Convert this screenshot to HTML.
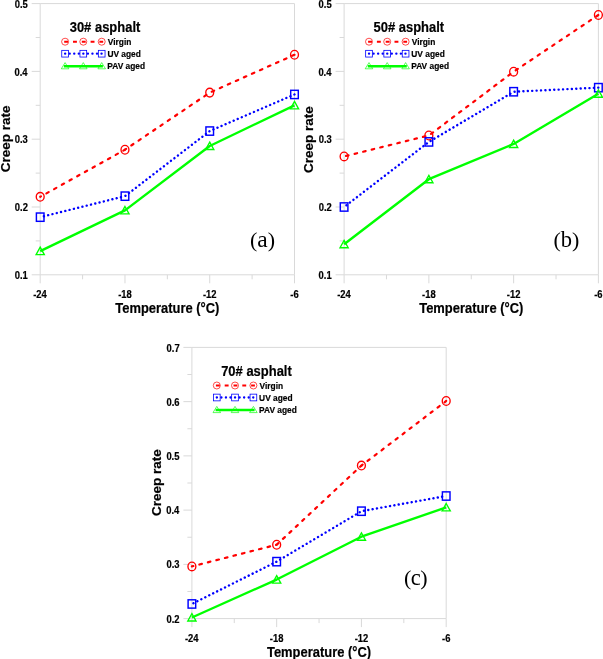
<!DOCTYPE html><html><head><meta charset="utf-8"><style>html,body{margin:0;padding:0;background:#fff;}svg{display:block;will-change:transform;}text{font-family:"Liberation Sans",sans-serif;font-weight:bold;fill:#000;stroke:#000;stroke-width:0.2px;}</style></head><body>
<svg width="603" height="659" viewBox="0 0 603 659">
<g stroke="#d9d9d9" stroke-width="1" fill="none">
<path d="M40.2,3.6H294.50V274.80H40.2Z"/>
<path d="M31.70,3.60H40.2"/>
<path d="M35.70,37.50H40.2"/>
<path d="M31.70,71.40H40.2"/>
<path d="M35.70,105.30H40.2"/>
<path d="M31.70,139.20H40.2"/>
<path d="M35.70,173.10H40.2"/>
<path d="M31.70,207.00H40.2"/>
<path d="M35.70,240.90H40.2"/>
<path d="M31.70,274.80H40.2"/>
<path d="M40.20,274.80V283.30"/>
<path d="M82.58,274.80V279.30"/>
<path d="M124.97,274.80V283.30"/>
<path d="M167.35,274.80V279.30"/>
<path d="M209.73,274.80V283.30"/>
<path d="M252.12,274.80V279.30"/>
<path d="M294.50,274.80V283.30"/>
</g>
<text transform="translate(14.70,7.73) scale(0.94,1)" font-size="10.0">0.5</text>
<text transform="translate(14.48,75.53) scale(0.94,1)" font-size="10.0">0.4</text>
<text transform="translate(14.77,143.33) scale(0.94,1)" font-size="10.0">0.3</text>
<text transform="translate(14.81,211.13) scale(0.94,1)" font-size="10.0">0.2</text>
<text transform="translate(14.70,278.93) scale(0.94,1)" font-size="10.0">0.1</text>
<text transform="translate(33.25,297.70) scale(0.94,1)" font-size="10.0">-24</text>
<text transform="translate(118.14,297.70) scale(0.94,1)" font-size="10.0">-18</text>
<text transform="translate(202.95,297.70) scale(0.94,1)" font-size="10.0">-12</text>
<text transform="translate(290.31,297.70) scale(0.94,1)" font-size="10.0">-6</text>
<text transform="translate(115.29,312.90) scale(0.925,1)" font-size="14.0">Temperature (°C)</text>
<text transform="translate(9.50,138.80) rotate(-90) scale(1.015,1)" font-size="13.3" text-anchor="middle">Creep rate</text>
<g fill="none" stroke="#ff0000" stroke-width="2.2" stroke-dasharray="2.6 6.2" stroke-linecap="round">
<line x1="40.20" y1="196.83" x2="124.97" y2="149.71" stroke-dashoffset="1.70"/>
<line x1="124.97" y1="149.71" x2="209.73" y2="92.62" stroke-dashoffset="1.20"/>
<line x1="209.73" y1="92.62" x2="294.50" y2="54.79" stroke-dashoffset="6.60"/>
</g>
<g fill="none" stroke="#0000ff" stroke-width="2.4" stroke-dasharray="0.1 4.31" stroke-linecap="round">
<line x1="40.20" y1="217.17" x2="124.97" y2="196.15" stroke-dashoffset="0.64"/>
<line x1="124.97" y1="196.15" x2="209.73" y2="131.06" stroke-dashoffset="3.84"/>
<line x1="209.73" y1="131.06" x2="294.50" y2="94.45" stroke-dashoffset="0.39"/>
</g>
<polyline points="40.20,251.07 124.97,210.39 209.73,145.98 294.50,105.30" fill="none" stroke="#00ff00" stroke-width="2.4" stroke-linejoin="round"/>
<ellipse cx="40.20" cy="196.83" rx="3.95" ry="4.35" fill="none" stroke="#ff0000" stroke-width="1.35"/>
<ellipse cx="124.97" cy="149.71" rx="3.95" ry="4.35" fill="none" stroke="#ff0000" stroke-width="1.35"/>
<ellipse cx="209.73" cy="92.62" rx="3.95" ry="4.35" fill="none" stroke="#ff0000" stroke-width="1.35"/>
<ellipse cx="294.50" cy="54.79" rx="3.95" ry="4.35" fill="none" stroke="#ff0000" stroke-width="1.35"/>
<rect x="36.40" y="213.02" width="7.6" height="8.3" fill="none" stroke="#0000ff" stroke-width="1.45"/>
<rect x="121.17" y="192.00" width="7.6" height="8.3" fill="none" stroke="#0000ff" stroke-width="1.45"/>
<rect x="205.93" y="126.91" width="7.6" height="8.3" fill="none" stroke="#0000ff" stroke-width="1.45"/>
<rect x="290.70" y="90.30" width="7.6" height="8.3" fill="none" stroke="#0000ff" stroke-width="1.45"/>
<path d="M40.20,247.17L44.30,254.57L36.10,254.57Z" fill="none" stroke="#00ff00" stroke-width="1.35" stroke-linejoin="miter"/>
<path d="M124.97,206.49L129.07,213.89L120.87,213.89Z" fill="none" stroke="#00ff00" stroke-width="1.35" stroke-linejoin="miter"/>
<path d="M209.73,142.08L213.83,149.48L205.63,149.48Z" fill="none" stroke="#00ff00" stroke-width="1.35" stroke-linejoin="miter"/>
<path d="M294.50,101.40L298.60,108.80L290.40,108.80Z" fill="none" stroke="#00ff00" stroke-width="1.35" stroke-linejoin="miter"/>
<text transform="translate(69.70,31.70) scale(0.908,1)" font-size="14.3">30# asphalt</text>
<path d="M64.20,41.70H103.20" stroke="#ff0000" stroke-width="2" stroke-dasharray="3.9 4.9" stroke-linecap="butt"/>
<ellipse cx="65.10" cy="41.70" rx="3.5" ry="3.5" fill="none" stroke="#ff0000" stroke-width="0.7"/>
<ellipse cx="83.30" cy="41.70" rx="3.5" ry="3.5" fill="none" stroke="#ff0000" stroke-width="0.7"/>
<ellipse cx="101.70" cy="41.70" rx="3.5" ry="3.5" fill="none" stroke="#ff0000" stroke-width="0.7"/>
<path d="M65.10,53.70H101.70" stroke="#0000ff" stroke-width="2.3" stroke-dasharray="0.1 4.45" stroke-linecap="round"/>
<rect x="61.75" y="50.35" width="6.7" height="6.7" fill="none" stroke="#0000ff" stroke-width="0.8"/>
<rect x="79.95" y="50.35" width="6.7" height="6.7" fill="none" stroke="#0000ff" stroke-width="0.8"/>
<rect x="98.35" y="50.35" width="6.7" height="6.7" fill="none" stroke="#0000ff" stroke-width="0.8"/>
<path d="M63.90,66.20H102.90" stroke="#00ff00" stroke-width="2.4"/>
<path d="M65.10,62.60L68.90,68.80L61.30,68.80Z" fill="none" stroke="#00ff00" stroke-width="0.65" stroke-linejoin="miter"/>
<path d="M83.30,62.60L87.10,68.80L79.50,68.80Z" fill="none" stroke="#00ff00" stroke-width="0.65" stroke-linejoin="miter"/>
<path d="M101.70,62.60L105.50,68.80L97.90,68.80Z" fill="none" stroke="#00ff00" stroke-width="0.65" stroke-linejoin="miter"/>
<text transform="translate(107.84,44.90) scale(0.91,1)" font-size="9.2">Virgin</text>
<text transform="translate(107.40,56.70) scale(0.91,1)" font-size="9.2">UV aged</text>
<text transform="translate(107.34,68.70) scale(0.91,1)" font-size="9.2">PAV aged</text>
<text x="250.0" y="247.1" style="font-family:'Liberation Serif',serif;font-weight:normal;stroke:none;letter-spacing:0" font-size="22">(<tspan font-size="23.5">a</tspan>)</text>
<g stroke="#d9d9d9" stroke-width="1" fill="none">
<path d="M344.1,3.6H598.40V274.80H344.1Z"/>
<path d="M335.60,3.60H344.1"/>
<path d="M339.60,37.50H344.1"/>
<path d="M335.60,71.40H344.1"/>
<path d="M339.60,105.30H344.1"/>
<path d="M335.60,139.20H344.1"/>
<path d="M339.60,173.10H344.1"/>
<path d="M335.60,207.00H344.1"/>
<path d="M339.60,240.90H344.1"/>
<path d="M335.60,274.80H344.1"/>
<path d="M344.10,274.80V283.30"/>
<path d="M386.48,274.80V279.30"/>
<path d="M428.87,274.80V283.30"/>
<path d="M471.25,274.80V279.30"/>
<path d="M513.63,274.80V283.30"/>
<path d="M556.02,274.80V279.30"/>
<path d="M598.40,274.80V283.30"/>
</g>
<text transform="translate(318.60,7.73) scale(0.94,1)" font-size="10.0">0.5</text>
<text transform="translate(318.38,75.53) scale(0.94,1)" font-size="10.0">0.4</text>
<text transform="translate(318.67,143.33) scale(0.94,1)" font-size="10.0">0.3</text>
<text transform="translate(318.71,211.13) scale(0.94,1)" font-size="10.0">0.2</text>
<text transform="translate(318.60,278.93) scale(0.94,1)" font-size="10.0">0.1</text>
<text transform="translate(337.15,297.70) scale(0.94,1)" font-size="10.0">-24</text>
<text transform="translate(422.04,297.70) scale(0.94,1)" font-size="10.0">-18</text>
<text transform="translate(506.85,297.70) scale(0.94,1)" font-size="10.0">-12</text>
<text transform="translate(594.21,297.70) scale(0.94,1)" font-size="10.0">-6</text>
<text transform="translate(419.19,312.90) scale(0.925,1)" font-size="14.0">Temperature (°C)</text>
<text transform="translate(313.40,139.60) rotate(-90) scale(1.015,1)" font-size="13.3" text-anchor="middle">Creep rate</text>
<g fill="none" stroke="#ff0000" stroke-width="2.2" stroke-dasharray="2.6 6.2" stroke-linecap="round">
<line x1="344.10" y1="156.42" x2="428.87" y2="135.47" stroke-dashoffset="6.80"/>
<line x1="428.87" y1="135.47" x2="513.63" y2="71.67" stroke-dashoffset="6.14"/>
<line x1="513.63" y1="71.67" x2="598.40" y2="14.99" stroke-dashoffset="6.30"/>
</g>
<g fill="none" stroke="#0000ff" stroke-width="2.4" stroke-dasharray="0.1 4.31" stroke-linecap="round">
<line x1="344.10" y1="207.00" x2="428.87" y2="141.91" stroke-dashoffset="1.52"/>
<line x1="428.87" y1="141.91" x2="513.63" y2="91.74" stroke-dashoffset="2.43"/>
<line x1="513.63" y1="91.74" x2="598.40" y2="87.67" stroke-dashoffset="3.50"/>
</g>
<polyline points="344.10,244.29 428.87,179.20 513.63,143.95 598.40,93.77" fill="none" stroke="#00ff00" stroke-width="2.4" stroke-linejoin="round"/>
<ellipse cx="344.10" cy="156.42" rx="3.95" ry="4.35" fill="none" stroke="#ff0000" stroke-width="1.35"/>
<ellipse cx="428.87" cy="135.47" rx="3.95" ry="4.35" fill="none" stroke="#ff0000" stroke-width="1.35"/>
<ellipse cx="513.63" cy="71.67" rx="3.95" ry="4.35" fill="none" stroke="#ff0000" stroke-width="1.35"/>
<ellipse cx="598.40" cy="14.99" rx="3.95" ry="4.35" fill="none" stroke="#ff0000" stroke-width="1.35"/>
<rect x="340.30" y="202.85" width="7.6" height="8.3" fill="none" stroke="#0000ff" stroke-width="1.45"/>
<rect x="425.07" y="137.76" width="7.6" height="8.3" fill="none" stroke="#0000ff" stroke-width="1.45"/>
<rect x="509.83" y="87.59" width="7.6" height="8.3" fill="none" stroke="#0000ff" stroke-width="1.45"/>
<rect x="594.60" y="83.52" width="7.6" height="8.3" fill="none" stroke="#0000ff" stroke-width="1.45"/>
<path d="M344.10,240.39L348.20,247.79L340.00,247.79Z" fill="none" stroke="#00ff00" stroke-width="1.35" stroke-linejoin="miter"/>
<path d="M428.87,175.30L432.97,182.70L424.77,182.70Z" fill="none" stroke="#00ff00" stroke-width="1.35" stroke-linejoin="miter"/>
<path d="M513.63,140.05L517.73,147.45L509.53,147.45Z" fill="none" stroke="#00ff00" stroke-width="1.35" stroke-linejoin="miter"/>
<path d="M598.40,89.87L602.50,97.27L594.30,97.27Z" fill="none" stroke="#00ff00" stroke-width="1.35" stroke-linejoin="miter"/>
<text transform="translate(373.50,31.70) scale(0.908,1)" font-size="14.3">50# asphalt</text>
<path d="M368.10,41.70H407.10" stroke="#ff0000" stroke-width="2" stroke-dasharray="3.9 4.9" stroke-linecap="butt"/>
<ellipse cx="369.00" cy="41.70" rx="3.5" ry="3.5" fill="none" stroke="#ff0000" stroke-width="0.7"/>
<ellipse cx="387.20" cy="41.70" rx="3.5" ry="3.5" fill="none" stroke="#ff0000" stroke-width="0.7"/>
<ellipse cx="405.60" cy="41.70" rx="3.5" ry="3.5" fill="none" stroke="#ff0000" stroke-width="0.7"/>
<path d="M369.00,53.70H405.60" stroke="#0000ff" stroke-width="2.3" stroke-dasharray="0.1 4.45" stroke-linecap="round"/>
<rect x="365.65" y="50.35" width="6.7" height="6.7" fill="none" stroke="#0000ff" stroke-width="0.8"/>
<rect x="383.85" y="50.35" width="6.7" height="6.7" fill="none" stroke="#0000ff" stroke-width="0.8"/>
<rect x="402.25" y="50.35" width="6.7" height="6.7" fill="none" stroke="#0000ff" stroke-width="0.8"/>
<path d="M367.80,66.20H406.80" stroke="#00ff00" stroke-width="2.4"/>
<path d="M369.00,62.60L372.80,68.80L365.20,68.80Z" fill="none" stroke="#00ff00" stroke-width="0.65" stroke-linejoin="miter"/>
<path d="M387.20,62.60L391.00,68.80L383.40,68.80Z" fill="none" stroke="#00ff00" stroke-width="0.65" stroke-linejoin="miter"/>
<path d="M405.60,62.60L409.40,68.80L401.80,68.80Z" fill="none" stroke="#00ff00" stroke-width="0.65" stroke-linejoin="miter"/>
<text transform="translate(411.74,44.90) scale(0.91,1)" font-size="9.2">Virgin</text>
<text transform="translate(411.30,56.70) scale(0.91,1)" font-size="9.2">UV aged</text>
<text transform="translate(411.24,68.70) scale(0.91,1)" font-size="9.2">PAV aged</text>
<text x="553.5" y="247.1" style="font-family:'Liberation Serif',serif;font-weight:normal;stroke:none;letter-spacing:0" font-size="22">(<tspan font-size="22.5">b</tspan>)</text>
<g stroke="#d9d9d9" stroke-width="1" fill="none">
<path d="M191.9,347.4H446.20V618.60H191.9Z"/>
<path d="M183.40,347.40H191.9"/>
<path d="M187.40,374.52H191.9"/>
<path d="M183.40,401.64H191.9"/>
<path d="M187.40,428.76H191.9"/>
<path d="M183.40,455.88H191.9"/>
<path d="M187.40,483.00H191.9"/>
<path d="M183.40,510.12H191.9"/>
<path d="M187.40,537.24H191.9"/>
<path d="M183.40,564.36H191.9"/>
<path d="M187.40,591.48H191.9"/>
<path d="M183.40,618.60H191.9"/>
<path d="M191.90,618.60V627.10"/>
<path d="M234.28,618.60V623.10"/>
<path d="M276.67,618.60V627.10"/>
<path d="M319.05,618.60V623.10"/>
<path d="M361.43,618.60V627.10"/>
<path d="M403.82,618.60V623.10"/>
<path d="M446.20,618.60V627.10"/>
</g>
<text transform="translate(166.55,351.53) scale(0.94,1)" font-size="10.0">0.7</text>
<text transform="translate(166.47,405.77) scale(0.94,1)" font-size="10.0">0.6</text>
<text transform="translate(166.40,460.01) scale(0.94,1)" font-size="10.0">0.5</text>
<text transform="translate(166.18,514.25) scale(0.94,1)" font-size="10.0">0.4</text>
<text transform="translate(166.47,568.49) scale(0.94,1)" font-size="10.0">0.3</text>
<text transform="translate(166.51,622.73) scale(0.94,1)" font-size="10.0">0.2</text>
<text transform="translate(184.95,641.50) scale(0.94,1)" font-size="10.0">-24</text>
<text transform="translate(269.84,641.50) scale(0.94,1)" font-size="10.0">-18</text>
<text transform="translate(354.65,641.50) scale(0.94,1)" font-size="10.0">-12</text>
<text transform="translate(442.01,641.50) scale(0.94,1)" font-size="10.0">-6</text>
<text transform="translate(266.99,656.70) scale(0.925,1)" font-size="14.0">Temperature (°C)</text>
<text transform="translate(161.20,482.60) rotate(-90) scale(1.015,1)" font-size="13.3" text-anchor="middle">Creep rate</text>
<g fill="none" stroke="#ff0000" stroke-width="2.2" stroke-dasharray="2.6 6.2" stroke-linecap="round">
<line x1="191.90" y1="566.42" x2="276.67" y2="544.73" stroke-dashoffset="1.10"/>
<line x1="276.67" y1="544.73" x2="361.43" y2="465.59" stroke-dashoffset="0.20"/>
<line x1="361.43" y1="465.59" x2="446.20" y2="400.99" stroke-dashoffset="1.10"/>
</g>
<g fill="none" stroke="#0000ff" stroke-width="2.4" stroke-dasharray="0.1 4.31" stroke-linecap="round">
<line x1="191.90" y1="603.96" x2="276.67" y2="561.65" stroke-dashoffset="2.73"/>
<line x1="276.67" y1="561.65" x2="361.43" y2="511.20" stroke-dashoffset="0.42"/>
<line x1="361.43" y1="511.20" x2="446.20" y2="496.02" stroke-dashoffset="1.88"/>
</g>
<polyline points="191.90,617.52 276.67,579.55 361.43,536.70 446.20,507.41" fill="none" stroke="#00ff00" stroke-width="2.4" stroke-linejoin="round"/>
<ellipse cx="191.90" cy="566.42" rx="3.95" ry="4.35" fill="none" stroke="#ff0000" stroke-width="1.35"/>
<ellipse cx="276.67" cy="544.73" rx="3.95" ry="4.35" fill="none" stroke="#ff0000" stroke-width="1.35"/>
<ellipse cx="361.43" cy="465.59" rx="3.95" ry="4.35" fill="none" stroke="#ff0000" stroke-width="1.35"/>
<ellipse cx="446.20" cy="400.99" rx="3.95" ry="4.35" fill="none" stroke="#ff0000" stroke-width="1.35"/>
<rect x="188.10" y="599.81" width="7.6" height="8.3" fill="none" stroke="#0000ff" stroke-width="1.45"/>
<rect x="272.87" y="557.50" width="7.6" height="8.3" fill="none" stroke="#0000ff" stroke-width="1.45"/>
<rect x="357.63" y="507.05" width="7.6" height="8.3" fill="none" stroke="#0000ff" stroke-width="1.45"/>
<rect x="442.40" y="491.87" width="7.6" height="8.3" fill="none" stroke="#0000ff" stroke-width="1.45"/>
<path d="M191.90,613.62L196.00,621.02L187.80,621.02Z" fill="none" stroke="#00ff00" stroke-width="1.35" stroke-linejoin="miter"/>
<path d="M276.67,575.65L280.77,583.05L272.57,583.05Z" fill="none" stroke="#00ff00" stroke-width="1.35" stroke-linejoin="miter"/>
<path d="M361.43,532.80L365.53,540.20L357.33,540.20Z" fill="none" stroke="#00ff00" stroke-width="1.35" stroke-linejoin="miter"/>
<path d="M446.20,503.51L450.30,510.91L442.10,510.91Z" fill="none" stroke="#00ff00" stroke-width="1.35" stroke-linejoin="miter"/>
<text transform="translate(221.14,375.50) scale(0.908,1)" font-size="14.3">70# asphalt</text>
<path d="M215.90,385.50H254.90" stroke="#ff0000" stroke-width="2" stroke-dasharray="3.9 4.9" stroke-linecap="butt"/>
<ellipse cx="216.80" cy="385.50" rx="3.5" ry="3.5" fill="none" stroke="#ff0000" stroke-width="0.7"/>
<ellipse cx="235.00" cy="385.50" rx="3.5" ry="3.5" fill="none" stroke="#ff0000" stroke-width="0.7"/>
<ellipse cx="253.40" cy="385.50" rx="3.5" ry="3.5" fill="none" stroke="#ff0000" stroke-width="0.7"/>
<path d="M216.80,397.50H253.40" stroke="#0000ff" stroke-width="2.3" stroke-dasharray="0.1 4.45" stroke-linecap="round"/>
<rect x="213.45" y="394.15" width="6.7" height="6.7" fill="none" stroke="#0000ff" stroke-width="0.8"/>
<rect x="231.65" y="394.15" width="6.7" height="6.7" fill="none" stroke="#0000ff" stroke-width="0.8"/>
<rect x="250.05" y="394.15" width="6.7" height="6.7" fill="none" stroke="#0000ff" stroke-width="0.8"/>
<path d="M215.60,410.00H254.60" stroke="#00ff00" stroke-width="2.4"/>
<path d="M216.80,406.40L220.60,412.60L213.00,412.60Z" fill="none" stroke="#00ff00" stroke-width="0.65" stroke-linejoin="miter"/>
<path d="M235.00,406.40L238.80,412.60L231.20,412.60Z" fill="none" stroke="#00ff00" stroke-width="0.65" stroke-linejoin="miter"/>
<path d="M253.40,406.40L257.20,412.60L249.60,412.60Z" fill="none" stroke="#00ff00" stroke-width="0.65" stroke-linejoin="miter"/>
<text transform="translate(259.54,388.70) scale(0.91,1)" font-size="9.2">Virgin</text>
<text transform="translate(259.10,400.50) scale(0.91,1)" font-size="9.2">UV aged</text>
<text transform="translate(259.04,412.50) scale(0.91,1)" font-size="9.2">PAV aged</text>
<text x="404.0" y="585.0" style="font-family:'Liberation Serif',serif;font-weight:normal;stroke:none;letter-spacing:-0.5px" font-size="22">(<tspan font-size="22.5">c</tspan>)</text>
</svg></body></html>
